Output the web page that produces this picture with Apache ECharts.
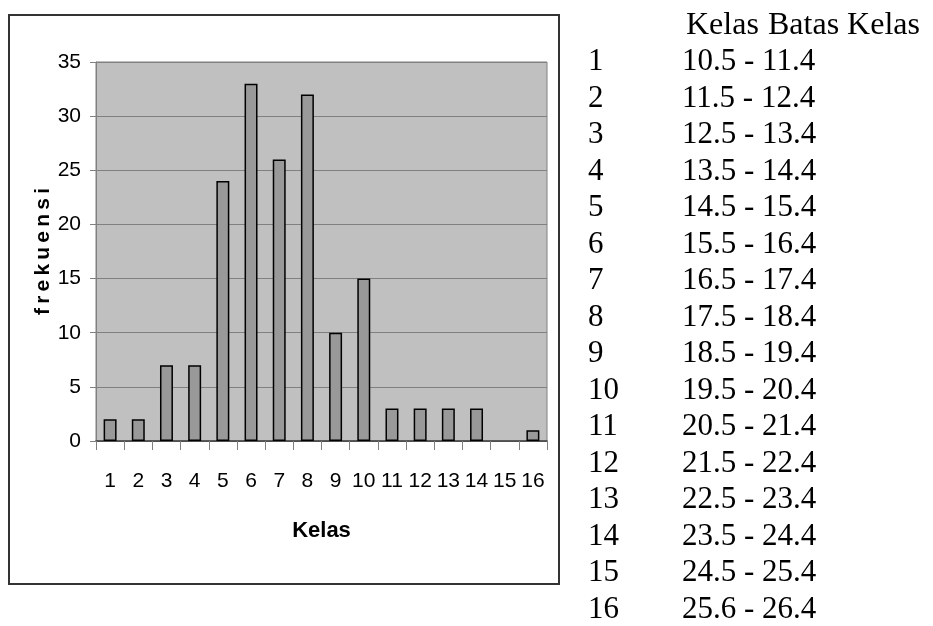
<!DOCTYPE html>
<html>
<head>
<meta charset="utf-8">
<script src="https://cdn.jsdelivr.net/npm/echarts@6/dist/echarts.min.js"></script>
<style>
html,body{margin:0;padding:0;background:#fff;}
#chart{width:933px;height:626px;}
</style>
</head>
<body>
<div id="chart"></div>
<script>
// ---- data ----
var kelas = ['1','2','3','4','5','6','7','8','9','10','11','12','13','14','15','16'];
var frekuensi = [2, 2, 7, 7, 24, 33, 26, 32, 10, 15, 3, 3, 3, 3, 0, 1];
var batasKelas = ['10.5 - 11.4','11.5 - 12.4','12.5 - 13.4','13.5 - 14.4','14.5 - 15.4',
  '15.5 - 16.4','16.5 - 17.4','17.5 - 18.4','18.5 - 19.4','19.5 - 20.4','20.5 - 21.4',
  '21.5 - 22.4','22.5 - 23.4','23.5 - 24.4','24.5 - 25.4','25.6 - 26.4'];
var yTicks = [0, 5, 10, 15, 20, 25, 30, 35];
var headerKelas = 'Kelas';
var headerBatas = 'Batas Kelas';
var xName = 'Kelas';
var yName = 'f\u2009r\u2009e\u2009k\u2009u\u2009e\u2009n\u2009s\u2009i';

var sans = '"Liberation Sans", Arial, sans-serif';
var serif = '"Liberation Serif", "Times New Roman", serif';

var chart = echarts.init(document.getElementById('chart'), null, {renderer: 'canvas'});

var graphics = [];
graphics.push({
  type: 'rect', z: -10,
  shape: {x: 9, y: 15, width: 550, height: 569},
  style: {fill: 'none', stroke: '#333', lineWidth: 2}
});
graphics.push({
  type: 'text', left: 686, top: 10,
  style: {text: headerKelas, font: '32px ' + serif, fill: '#000'}
});
graphics.push({
  type: 'text', left: 768, top: 10,
  style: {text: headerBatas, font: '32px ' + serif, fill: '#000'}
});
for (var i = 0; i < kelas.length; i++) {
  var yc = 62 + i * 36.5;
  graphics.push({
    type: 'text', x: 588, y: yc,
    style: {text: kelas[i], font: '31px ' + serif, fill: '#000', verticalAlign: 'middle', align: 'left'}
  });
  graphics.push({
    type: 'text', x: 682, y: yc,
    style: {text: batasKelas[i], font: '31px ' + serif, fill: '#000', verticalAlign: 'middle', align: 'left'}
  });
}

var barData = frekuensi.map(function (v) {
  return v === 0 ? {value: v, itemStyle: {borderWidth: 0, opacity: 0}} : v;
});

var option = {
  animation: false,
  backgroundColor: '#fff',
  grid: {
    left: 96, top: 62, right: 386, bottom: 185,
    show: true, backgroundColor: '#c0c0c0', borderColor: '#808080', borderWidth: 1
  },
  xAxis: {
    type: 'category',
    data: kelas,
    name: xName,
    nameLocation: 'middle',
    nameGap: 79,
    nameTextStyle: {fontFamily: sans, fontWeight: 'bold', fontSize: 22, color: '#000'},
    axisLine: {show: true, lineStyle: {color: '#404040', width: 1.5}},
    axisTick: {show: true, length: 9, lineStyle: {color: '#808080'}},
    axisLabel: {fontFamily: sans, fontSize: 21, color: '#000', margin: 30, interval: 0}
  },
  yAxis: {
    type: 'value',
    min: yTicks[0], max: yTicks[yTicks.length - 1], interval: 5,
    name: yName,
    nameLocation: 'middle',
    nameGap: 39,
    nameRotate: 90,
    nameTextStyle: {fontFamily: sans, fontWeight: 'bold', fontSize: 21, color: '#000'},
    axisLine: {show: true, lineStyle: {color: '#808080'}},
    axisTick: {show: true, length: 6, lineStyle: {color: '#808080'}},
    axisLabel: {fontFamily: sans, fontSize: 21, color: '#000', margin: 15},
    splitLine: {show: true, lineStyle: {color: '#808080', width: 1}}
  },
  series: [{
    type: 'bar',
    data: barData,
    barWidth: '46%',
    itemStyle: {color: '#999999', borderColor: '#000', borderWidth: 1.5}
  }],
  graphic: graphics
};
chart.setOption(option);
</script>
</body>
</html>
